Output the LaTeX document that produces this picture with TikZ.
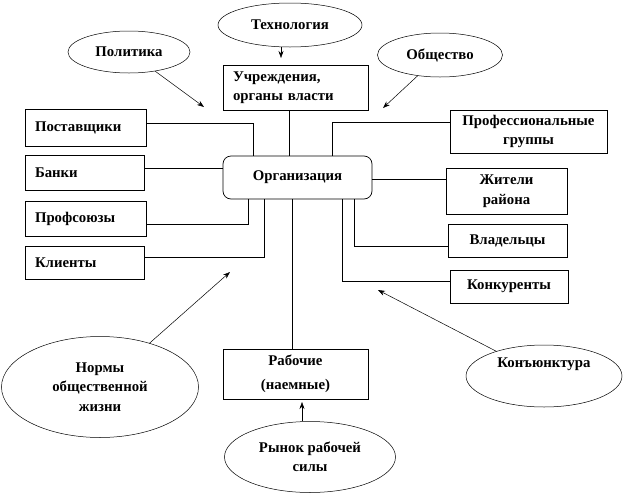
\documentclass[tikz,border=0pt]{standalone}
\usepackage{fontspec}
\setmainfont{Liberation Serif}
\usetikzlibrary{arrows.meta, shapes.geometric, positioning, calc}

\begin{document}
\begin{tikzpicture}[
  x=1pt, y=-1pt,
  every node/.style={font=\bfseries\fontsize{14.8}{19.5}\selectfont},
  sidebox/.style={rectangle, draw, line width=0.7pt, inner xsep=10pt, inner ysep=0pt, align=left},
  midbox/.style={rectangle, draw, line width=0.7pt, inner sep=0pt, align=center},
  orgbox/.style={rectangle, draw, line width=0.7pt, rounded corners=8pt, inner sep=0pt},
  oval/.style={ellipse, draw, line width=0.5pt, inner sep=0pt, align=center},
  link/.style={line width=0.7pt},
  infl/.style={-{Stealth[length=7pt, width=5pt]}, line width=0.5pt},
]
\useasboundingbox (0,0) rectangle (625,496);

%% Outer influences
\node[oval, minimum width=144, minimum height=44] (tech) at (290, 25)  {Технология};
\node[oval, minimum width=122, minimum height=42] (pol)  at (129, 52)  {Политика};
\node[oval, minimum width=125, minimum height=44] (soc)  at (440, 55)  {Общество};
\node[oval, minimum width=197, minimum height=101] (norms) at (100, 387) {Нормы\\общественной\\жизни};
\node[oval, minimum width=171, minimum height=71] (labmkt) at (310, 457) {Рынок рабочей\\силы};
\node[oval, minimum width=156, minimum height=62] (conj) at (544, 376) {Конъюнктура\\[8pt]};

%% Organization
\node[orgbox, minimum width=149, minimum height=43] (org) at (297.5, 177.5) {Организация};

%% Boxes on the left
\node[sidebox, text width=101, minimum height=37] (suppl)  at (85.5, 127.5) {Поставщики};
\node[sidebox, text width=99,  minimum height=35] (banks)  at (84.5, 172.5) {Банки};
\node[sidebox, text width=101, minimum height=35] (unions) at (85.5, 218.5) {Профсоюзы};
\node[sidebox, text width=99,  minimum height=33] (client) at (84.5, 262.5) {Клиенты};

%% Boxes on top and bottom
\node[sidebox, text width=125, minimum height=45] (gov) at (295.5, 87.5) {Учреждения,\\органы власти};
\node[midbox, minimum width=145, minimum height=50, font=\bfseries\fontsize{14.8}{24}\selectfont] (work) at (295.5, 374) {Рабочие\\(наемные)};

%% Boxes on the right
\node[midbox, minimum width=157, minimum height=43] (profgr) at (528.5, 131.5) {Профессиональные\\группы};
\node[midbox, minimum width=121, minimum height=46] (resid)  at (506.5, 191)   {Жители\\района};
\node[midbox, minimum width=119, minimum height=33] (owners) at (507.5, 240.5) {Владельцы};
\node[midbox, minimum width=118, minimum height=33] (compet) at (509, 286.5)   {Конкуренты};

%% Links to the organization
\draw[link] ([yshift=4pt]suppl.east) -| ([xshift=-44.5pt]org.north);
\draw[link] ([xshift=-6.5pt]gov.south) -- ([xshift=-6.5pt]gov.south |- org.north);
\draw[link] ([yshift=9.5pt]profgr.west) -| ([xshift=34.5pt]org.north);
\draw[link] ([yshift=4.5pt]banks.east) -- ([yshift=4.5pt]banks.east -| org.west);
\draw[link] ([yshift=-5.5pt]unions.east) -| ([xshift=-49.5pt]org.south);
\draw[link] ([yshift=5.5pt]client.east) -| ([xshift=-33.5pt]org.south);
\draw[link] ([xshift=-5.5pt]org.south) -- ([xshift=-5.5pt]org.south |- work.north);
\draw[link] ([yshift=-1.5pt]org.east) -- ([yshift=-1.5pt]org.east -| resid.west);
\draw[link] ([yshift=-5.5pt]owners.west) -| ([xshift=56.5pt]org.south);
\draw[link] ([yshift=5.5pt]compet.west) -| ([xshift=44.5pt]org.south);

%% Influence arrows
\coordinate (techTip) at (281, 58);
\coordinate (polTip)  at (204, 107);
\coordinate (socTip)  at (383, 108);
\coordinate (normTip) at (230, 272);
\coordinate (conjTip) at (378, 290);
\coordinate (workTip) at (302, 402);
\draw[infl] (tech.south -| techTip) -- (techTip);
\draw[infl] (pol) -- (polTip);
\draw[infl] (soc) -- (socTip);
\draw[infl] (norms) -- (normTip);
\draw[infl] (conj) -- (conjTip);
\draw[infl] (labmkt.north -| workTip) -- (workTip);

\end{tikzpicture}
\end{document}
